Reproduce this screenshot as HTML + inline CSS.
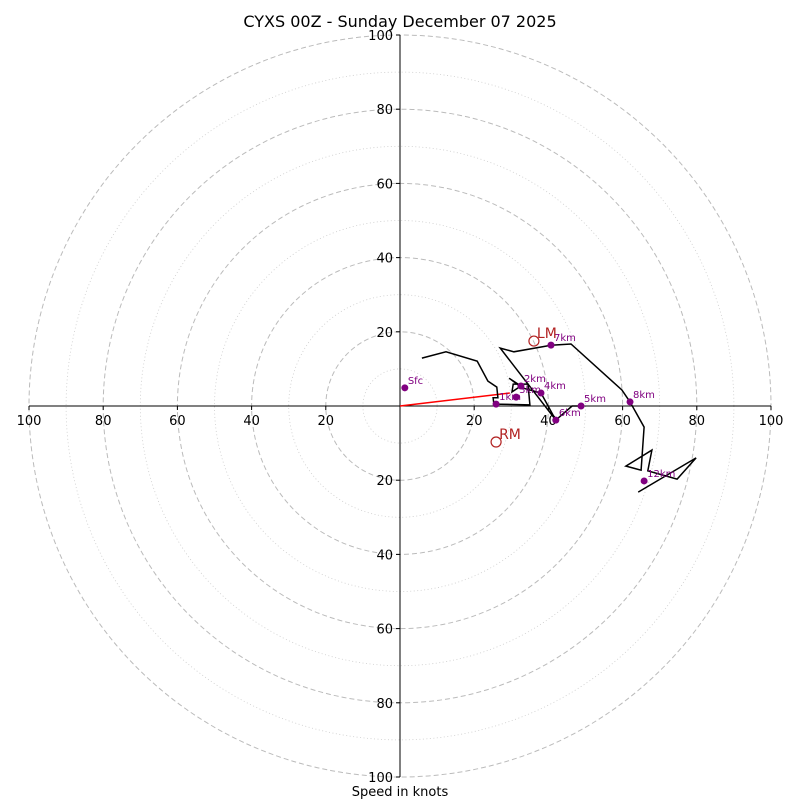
<!DOCTYPE html>
<html><head><meta charset="utf-8"><style>
body{margin:0;background:#fff}
svg{display:block;font-family:"DejaVu Sans","Liberation Sans",sans-serif}
</style></head><body>
<svg id="c" width="800" height="800" viewBox="0 0 800 800">
<text x="400" y="27" text-anchor="middle" font-size="16">CYXS 00Z - Sunday December 07 2025</text>
<text x="400" y="796" text-anchor="middle" font-size="13">Speed in knots</text>
<g id="rings"></g><g id="axes"></g><g id="plot"></g>
</svg>
<script>
const ringValues=[10,20,30,40,50,60,70,80,90,100];
const tickLabels=[20,40,60,80,100];
const traceU=[5.9,12.4,20.8,23.7,26.1,26.4,25.1,25.3,35.0,34.5,30.5,30.2,32.6,29.4,32.9,38.0,42.0,46.4,48.8,46.4,42.0,27.0,30.7,40.7,46.1,59.8,62.0,65.8,65.0,60.9,67.9,66.8,74.7,79.8,64.2];
const traceV=[12.9,14.6,12.1,6.7,5.1,2.2,2.2,0.5,0.3,5.9,5.9,3.8,5.4,7.5,4.9,3.5,-3.8,0,0,0,-3.8,15.6,14.6,16.4,16.7,4.3,1.1,-5.7,-17.3,-16.2,-11.9,-17.5,-19.7,-14.0,-23.2];
const markerLabels=["Sfc","1km","2km","3km","4km","5km","6km","7km","8km","12km"];
const markerU=[1.3,25.9,32.6,31.3,38.0,48.8,42.0,40.7,62.0,65.8];
const markerV=[4.9,0.5,5.4,2.4,3.5,0,-3.8,16.4,1.1,-20.2];
const meanWind=[29.6,3.5];
const stormLM=[36.1,17.5];
const stormRM=[25.9,-9.7];
const cx=400,cy=406,k=3.71;
const X=u=>cx+u*k, Y=v=>cy-v*k;
const NS="http://www.w3.org/2000/svg";
function mk(p,t,a){const e=document.createElementNS(NS,t);for(const n in a)e.setAttribute(n,a[n]);p.appendChild(e);return e;}
const rings=document.getElementById('rings'),axes=document.getElementById('axes'),plot=document.getElementById('plot');
ringValues.forEach(r=>{
 const major=r%20===0;
 const c=mk(rings,'circle',{cx:cx,cy:cy,r:r*k,fill:'none',stroke:major?'#bbb':'#ccc','stroke-width':major?1:0.8,'stroke-dasharray':major?'5,3':'1,2.5'});
 
 
});
let l=mk(axes,'line',{x1:X(-100),y1:cy,x2:X(100),y2:cy,stroke:'#000','stroke-width':1});


l=mk(axes,'line',{x1:cx,y1:Y(100),x2:cx,y2:Y(-100),stroke:'#000','stroke-width':1});


tickLabels.forEach(t=>{
 [-1,1].forEach(s=>{
  mk(axes,'line',{x1:X(s*t),y1:cy,x2:X(s*t),y2:cy+4,stroke:'#000'});
  const tx=mk(axes,'text',{x:X(s*t),y:cy+19,'text-anchor':'middle','font-size':13});
  tx.textContent=t;
  
  
  mk(axes,'line',{x1:cx-4,y1:Y(s*t),x2:cx,y2:Y(s*t),stroke:'#000'});
  const ty=mk(axes,'text',{x:cx-7,y:Y(s*t)+5,'text-anchor':'end','font-size':13});
  ty.textContent=t;
  
  
 });
});
let mw=mk(plot,'line',{x1:X(0),y1:Y(0),x2:X(meanWind[0]),y2:Y(meanWind[1]),stroke:'red','stroke-width':1.5});


const pts=traceU.map((u,i)=>X(u).toFixed(1)+','+Y(traceV[i]).toFixed(1)).join(' ');
const pl=mk(plot,'polyline',{points:pts,fill:'none',stroke:'#000','stroke-width':1.5});


markerU.forEach((u,i)=>{
 const c=mk(plot,'circle',{cx:X(u),cy:Y(markerV[i]),r:3.5,fill:'#800080'});
 
 
 const t=mk(plot,'text',{x:X(u)+3,y:Y(markerV[i])-4,'font-size':10,fill:'#800080'});
 t.textContent=markerLabels[i];
 
 
});
[[stormLM,'LM'],[stormRM,'RM']].forEach(([p,n])=>{
 const c=mk(plot,'circle',{cx:X(p[0]),cy:Y(p[1]),r:5,fill:'none',stroke:'#b22222','stroke-width':1.2});
 
 
 const t=mk(plot,'text',{x:X(p[0])+3,y:Y(p[1])-3,'font-size':14,fill:'#b22222'});
 t.textContent=n;
 
 
});
</script>
</body></html>
